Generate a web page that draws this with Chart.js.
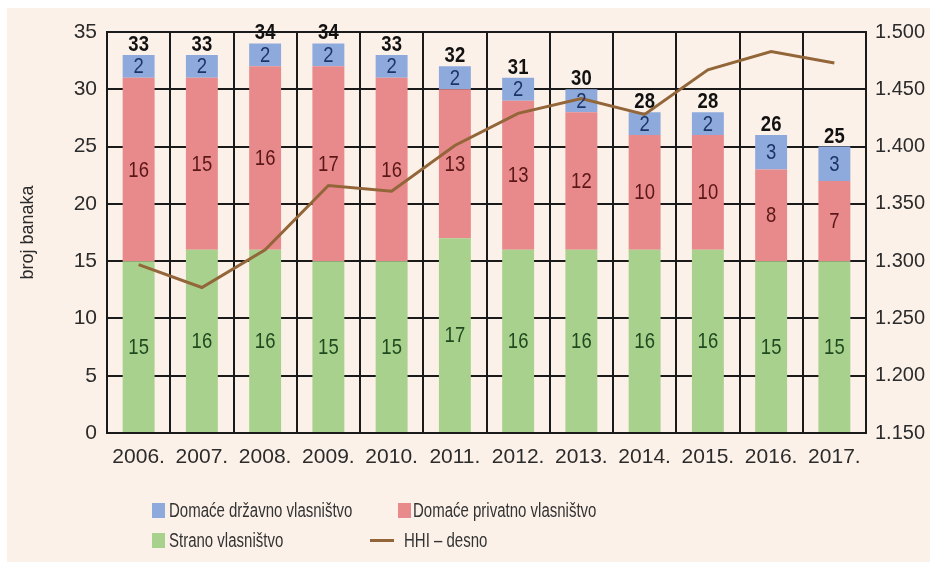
<!DOCTYPE html>
<html>
<head>
<meta charset="utf-8">
<script src="https://cdn.jsdelivr.net/npm/chart.js@4.4.0/dist/chart.umd.min.js"></script>
<style>
  body { margin: 0; background: #fff; width: 930px; height: 562px; overflow: hidden; position: relative; }
  #box { position: absolute; left: 7px; top: 8px; width: 923px; height: 554px; background: #fcf1e9; }
  #chart { position: absolute; left: 0; top: 0; }
  .lg { position: absolute; font-family: 'Liberation Sans', Arial, sans-serif; font-size: 20px; color: #333; line-height: 20px; white-space: nowrap; transform: scaleX(0.75); transform-origin: left center; }
  .sw { position: absolute; }
</style>
</head>
<body>
<div id="box"><canvas id="chart" width="923" height="554"></canvas></div>
<script>
const FONT = "'Liberation Sans', Arial, sans-serif"

// podaci
const years = ['2006.', '2007.', '2008.', '2009.', '2010.', '2011.', '2012.', '2013.', '2014.', '2015.', '2016.', '2017.']
const strano = [15, 16, 16, 15, 15, 17, 16, 16, 16, 16, 15, 15]
const domacePrivatno = [16, 15, 16, 17, 16, 13, 13, 12, 10, 10, 8, 7]
const domaceDrzavno = [2, 2, 2, 2, 2, 2, 2, 2, 2, 2, 3, 3]
const hhi = [1297, 1277, 1310, 1366, 1361, 1401, 1429, 1442, 1428, 1467, 1483, 1473]
const leftTicks = [0, 5, 10, 15, 20, 25, 30, 35]
const rightTicks = [1150, 1200, 1250, 1300, 1350, 1400, 1450, 1500]

const totals = years.map((y, i) => strano[i] + domacePrivatno[i] + domaceDrzavno[i])

const segments = [
  { label: 'Strano vlasništvo', data: strano, color: '#a9d18e', text: '#1f4a1f' },
  { label: 'Domaće privatno vlasništvo', data: domacePrivatno, color: '#e8898b', text: '#5a1717' },
  { label: 'Domaće državno vlasništvo', data: domaceDrzavno, color: '#8eaadc', text: '#1c3566' }
]

// uzi tekst (kao condensed font)
function narrowText (ctx, text, x, y) {
  ctx.save()
  ctx.translate(x, y)
  ctx.scale(0.84, 1)
  ctx.fillText(text, 0, 0)
  ctx.restore()
}

const barLabels = {
  id: 'barLabels',
  afterDatasetsDraw (chart) {
    const ctx = chart.ctx
    ctx.save()
    ctx.textAlign = 'center'
    ctx.textBaseline = 'middle'
    ctx.font = '22px ' + FONT
    segments.forEach((seg, i) => {
      chart.getDatasetMeta(i).data.forEach((bar, j) => {
        ctx.fillStyle = seg.text
        narrowText(ctx, seg.data[j], bar.x, (bar.y + bar.base) / 2 + 1)
      })
    })
    // ukupno iznad stupca
    ctx.font = 'bold 22px ' + FONT
    ctx.fillStyle = '#111'
    ctx.textBaseline = 'alphabetic'
    chart.getDatasetMeta(2).data.forEach((bar, j) => {
      narrowText(ctx, totals[j], bar.x, bar.y - 4)
    })
    ctx.restore()
  }
}

const datasets = segments.map((seg) => ({
  type: 'bar',
  label: seg.label,
  data: seg.data,
  backgroundColor: seg.color,
  borderWidth: 0,
  yAxisID: 'y',
  order: 1,
  barPercentage: 0.505,
  categoryPercentage: 1
}))
datasets.push({
  type: 'line',
  label: 'HHI – desno',
  data: hhi,
  borderColor: '#93663a',
  borderWidth: 3,
  pointRadius: 0,
  tension: 0,
  yAxisID: 'y1',
  order: 0
})

const ctx = document.getElementById('chart').getContext('2d')
const myChart = new Chart(ctx, {
  data: { labels: years, datasets },
  plugins: [barLabels],
  options: {
    responsive: false,
    animation: false,
    devicePixelRatio: 1,
    layout: { padding: { top: 24, left: 0, right: 0, bottom: 89 } },
    plugins: { legend: { display: false }, tooltip: { enabled: false } },
    scales: {
      x: {
        stacked: true,
        afterFit: (scale) => { scale.height = 40 },
        grid: { color: '#1a1a1a', lineWidth: 2, drawTicks: false },
        border: { color: '#1a1a1a', width: 2 },
        ticks: { color: '#2b2b2b', font: { family: FONT, size: 21 }, padding: 12, maxRotation: 0 }
      },
      y: {
        stacked: true,
        position: 'left',
        min: 0,
        max: 35,
        afterFit: (scale) => { scale.width = 100 },
        afterBuildTicks: (scale) => { scale.ticks = leftTicks.map((v) => ({ value: v })) },
        grid: { color: '#1a1a1a', lineWidth: 2, drawTicks: false },
        border: { color: '#1a1a1a', width: 2 },
        ticks: { color: '#2b2b2b', font: { family: FONT, size: 21 }, padding: 10 },
        title: { display: true, text: 'broj banaka', color: '#2b2b2b', font: { family: FONT, size: 18 }, padding: { top: 10 } }
      },
      y1: {
        position: 'right',
        min: 1150,
        max: 1500,
        afterFit: (scale) => { scale.width = 64 },
        afterBuildTicks: (scale) => { scale.ticks = rightTicks.map((v) => ({ value: v })) },
        grid: { display: false, drawTicks: false },
        border: { color: '#1a1a1a', width: 2 },
        ticks: {
          color: '#2b2b2b',
          font: { family: FONT, size: 20 },
          padding: 9,
          callback: (v) => (v / 1000).toFixed(3)
        }
      }
    }
  }
})

// legenda (2 x 2)
const legendItems = [
  { ds: 2, kind: 'box', sx: 152, tx: 169, y: 510 },
  { ds: 1, kind: 'box', sx: 398, tx: 413, y: 510 },
  { ds: 0, kind: 'box', sx: 152, tx: 169, y: 540 },
  { ds: 3, kind: 'line', sx: 370, tx: 404, y: 540 }
]
legendItems.forEach((item) => {
  const ds = myChart.data.datasets[item.ds]
  const sw = document.createElement('div')
  sw.className = 'sw'
  if (item.kind === 'box') {
    sw.style.left = item.sx + 'px'
    sw.style.top = (item.y - 7) + 'px'
    sw.style.width = '13px'
    sw.style.height = '15px'
    sw.style.background = ds.backgroundColor
  } else {
    sw.style.left = item.sx + 'px'
    sw.style.top = (item.y - 1) + 'px'
    sw.style.width = '24px'
    sw.style.height = '3px'
    sw.style.background = ds.borderColor
  }
  document.body.appendChild(sw)
  const txt = document.createElement('div')
  txt.className = 'lg'
  txt.style.left = item.tx + 'px'
  txt.style.top = (item.y - 10) + 'px'
  txt.textContent = ds.label
  document.body.appendChild(txt)
})
</script>
</body>
</html>
